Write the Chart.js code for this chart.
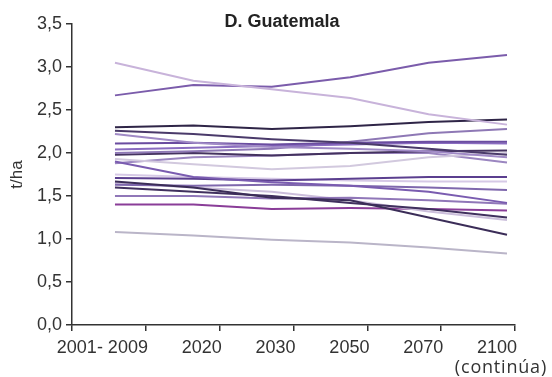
<!DOCTYPE html>
<html>
<head>
<meta charset="utf-8">
<script src="https://cdn.jsdelivr.net/npm/chart.js@4/dist/chart.umd.min.js"></script>
<style>
  html, body { margin: 0; padding: 0; background: #fff; }
  #wrap { width: 552px; height: 377px; position: relative; }
</style>
</head>
<body>
<div id="wrap"><canvas id="c"></canvas></div>
<script>
// Period labels along the horizontal axis
const periods = ['2001- 2009', '2020', '2030', '2050', '2070', '2100'];
// Yield ticks (t/ha)
const yTicks = [0, 0.5, 1, 1.5, 2, 2.5, 3, 3.5];

// Projected yields per scenario, one value per period
const s01 = [3.05, 2.84, 2.74, 2.64, 2.45, 2.33];
const s02 = [2.67, 2.79, 2.77, 2.88, 3.05, 3.14];
const s03 = [2.30, 2.32, 2.28, 2.31, 2.36, 2.39];
const s04 = [2.26, 2.22, 2.16, 2.12, 2.05, 1.98];
const s05 = [2.22, 2.12, 2.07, 2.05, 2.02, 1.95];
const s06 = [2.11, 2.12, 2.10, 2.12, 2.13, 2.13];
const s07 = [2.04, 2.06, 2.08, 2.10, 2.12, 2.11];
const s08 = [2.00, 2.02, 2.05, 2.13, 2.23, 2.28];
const s09 = [1.98, 2.00, 1.97, 2.00, 2.02, 2.03];
const s10 = [1.93, 1.87, 1.81, 1.85, 1.95, 2.00];
const s11 = [1.90, 1.72, 1.66, 1.62, 1.55, 1.42];
const s12 = [1.88, 1.95, 1.97, 2.00, 2.00, 1.89];
const s13 = [1.71, 1.70, 1.68, 1.70, 1.72, 1.72];
const s14 = [1.75, 1.72, 1.70, 1.68, 1.67, 1.67];
const s15 = [1.67, 1.60, 1.48, 1.45, 1.25, 1.05];
const s16 = [1.63, 1.62, 1.63, 1.62, 1.60, 1.57];
const s17 = [1.60, 1.55, 1.50, 1.42, 1.35, 1.25];
const s18 = [1.50, 1.50, 1.47, 1.48, 1.45, 1.41];
const s19 = [1.65, 1.60, 1.55, 1.45, 1.32, 1.22];
const s20 = [1.40, 1.40, 1.35, 1.36, 1.35, 1.33];
const s21 = [1.08, 1.04, 0.99, 0.96, 0.90, 0.83];

const series = [
  { v: s01, c: '#c8b3da' }, { v: s02, c: '#7b5cab' }, { v: s03, c: '#2f2547' },
  { v: s04, c: '#4a3a6a' }, { v: s05, c: '#a08ac6' }, { v: s06, c: '#6a4ca0' },
  { v: s07, c: '#8a6cc0' }, { v: s08, c: '#8e78b5' }, { v: s09, c: '#44325f' },
  { v: s10, c: '#d2c9de' }, { v: s11, c: '#7a5cb0' }, { v: s12, c: '#9b86c0' },
  { v: s13, c: '#5b3f8f' }, { v: s14, c: '#d6c9e6' }, { v: s15, c: '#3b2d58' },
  { v: s16, c: '#7f68ad' }, { v: s17, c: '#40305e' }, { v: s18, c: '#9077b8' },
  { v: s19, c: '#cbbedb' }, { v: s20, c: '#8a3d98' }, { v: s21, c: '#bab5c8' }
];

const datasets = series.map((s, i) => ({
  label: 'S' + (i + 1),
  data: s.v.map((y, k) => ({ x: k, y: y })),
  xAxisID: 'xl',
  borderColor: s.c,
  borderWidth: 2,
  pointRadius: 0,
  tension: 0,
  fill: false
}));

const axisColor = '#333';
const font = { family: 'Liberation Sans, Arial, sans-serif', size: 18 };

// Title and the continuation note below the last period label
const notes = {
  id: 'notes',
  afterDraw(chart) {
    const ctx = chart.ctx;
    ctx.save();
    ctx.fillStyle = '#222';
    ctx.textBaseline = 'alphabetic';
    ctx.font = 'bold 18px "Liberation Sans", Arial, sans-serif';
    ctx.textAlign = 'center';
    ctx.fillText('D. Guatemala', 282, 27);
    ctx.font = '18px "Open Sans", Lato, sans-serif';
    ctx.letterSpacing = '0.8px';
    ctx.textAlign = 'right';
    ctx.fillStyle = '#333';
    ctx.fillText('(continúa)', 547, 373);
    ctx.restore();
  }
};

new Chart(document.getElementById('c'), {
  type: 'line',
  data: { labels: periods, datasets: datasets },
  options: {
    responsive: true,
    maintainAspectRatio: false,
    animation: false,
    layout: { padding: { top: 24, right: 37, left: 7, bottom: 0 } },
    plugins: { legend: { display: false }, tooltip: { enabled: false }, title: { display: false } },
    scales: {
      x: {
        type: 'category',
        offset: true,
        grid: { offset: true, drawOnChartArea: false, drawTicks: true, tickLength: 6, color: axisColor, lineWidth: 1.5 },
        border: { display: true, color: axisColor, width: 1.5 },
        ticks: { color: axisColor, font: font, padding: 6, maxRotation: 0, autoSkip: false, align: 'end', labelOffset: 39 },
        afterFit(scale) { scale.height = 52; }
      },
      xl: {
        type: 'linear',
        display: false,
        min: -0.548,
        max: 5.102
      },
      y: {
        min: 0,
        max: 3.5,
        afterBuildTicks(scale) { scale.ticks = yTicks.map(v => ({ value: v })); },
        grid: { drawOnChartArea: false, drawTicks: true, tickLength: 6, color: axisColor, lineWidth: 1.5 },
        border: { display: true, color: axisColor, width: 1.5 },
        ticks: {
          color: axisColor, font: font, padding: 4,
          callback: v => Number(v).toFixed(1).replace('.', ',')
        },
        title: { display: true, text: 't/ha', color: axisColor, font: { family: 'Liberation Sans, Arial, sans-serif', size: 17 }, padding: 0 },
        afterFit(scale) { scale.width = 65; }
      }
    }
  },
  plugins: [notes]
});
</script>
</body>
</html>
